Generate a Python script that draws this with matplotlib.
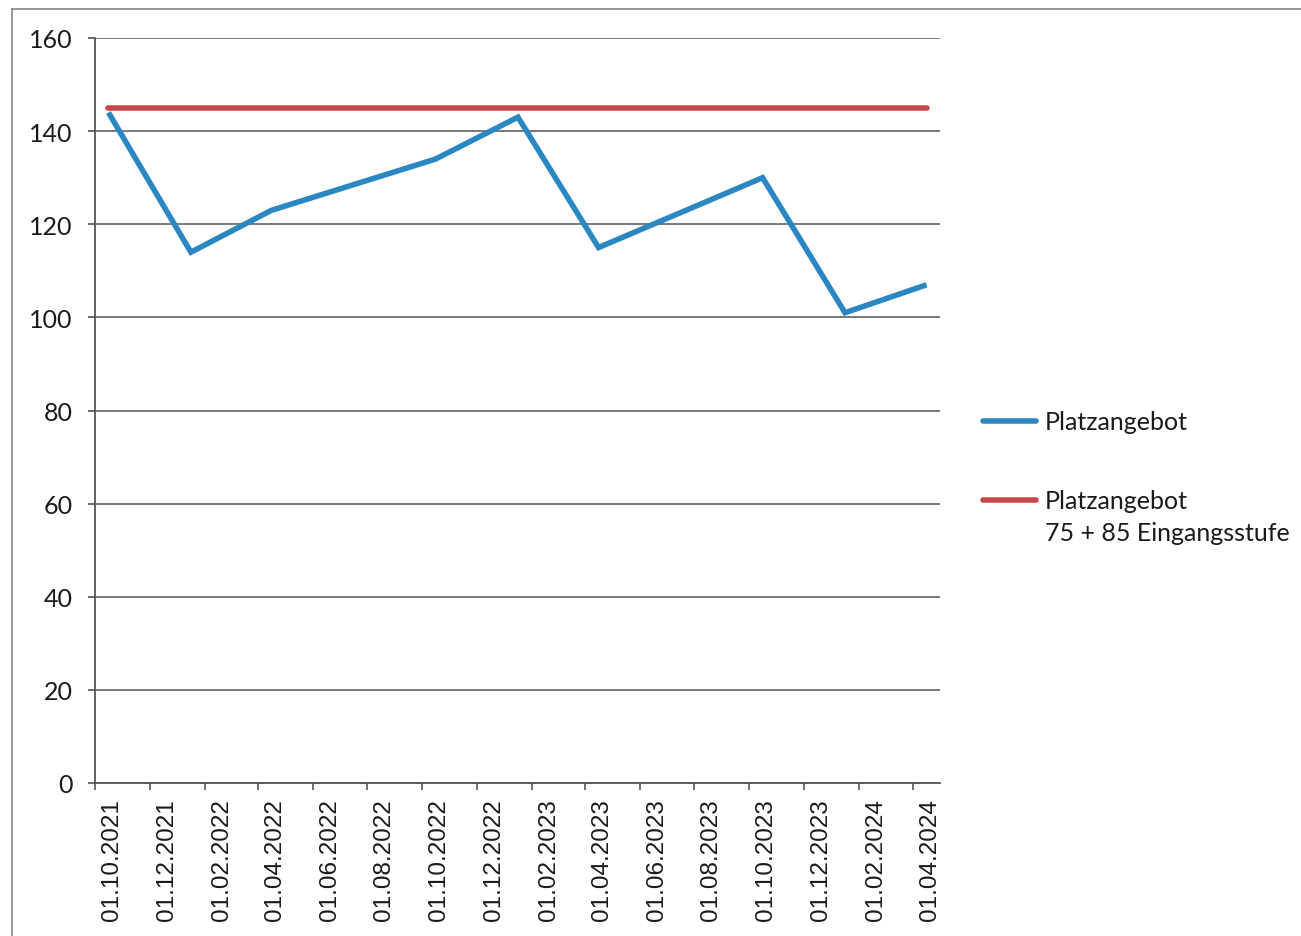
import matplotlib
matplotlib.use("Agg")
import matplotlib.pyplot as plt
import matplotlib.dates as mdates
from matplotlib.lines import Line2D
from matplotlib.transforms import ScaledTranslation
import pandas as pd

# ---- data ----
dates = ["01.10.2021", "01.01.2022", "01.04.2022", "01.10.2022", "01.01.2023",
         "01.04.2023", "01.10.2023", "01.01.2024", "01.04.2024"]
platzangebot = [144, 114, 123, 134, 143, 115, 130, 101, 107]
kapazitaet_dates = ["01.10.2021", "01.04.2024"]
kapazitaet = [145, 145]
series_names = ["Platzangebot", "Platzangebot\n75 + 85 Eingangsstufe"]
y_ticks = [0, 20, 40, 60, 80, 100, 120, 140, 160]

blue = "#2b87c2"
red = "#c9474c"

W, H = 1301, 937
fig = plt.figure(figsize=(W / 100, H / 100), dpi=100)
fig.patch.set_facecolor("white")

ax = fig.add_axes([95 / W, (H - 784) / H, 845 / W, (784 - 39) / H])

# Excel month-based date axis: points sit in the middle of their month
half_month = pd.Timedelta(days=15)
x1 = pd.to_datetime(dates, format="%d.%m.%Y") + half_month
x2 = pd.to_datetime(kapazitaet_dates, format="%d.%m.%Y") + half_month

ax.plot(x2, kapazitaet, color=red, lw=4.0, solid_capstyle="round", zorder=3)
ax.plot(x1, platzangebot, color=blue, lw=4.0, solid_capstyle="butt",
        solid_joinstyle="miter", zorder=4)

ax.set_xlim(pd.Timestamp("2021-10-01"), pd.Timestamp("2024-05-01"))
ax.set_ylim(0, 160)
ax.set_yticks(y_ticks)
ax.yaxis.grid(True, color="#6e6e6e", lw=1.3)
ax.set_axisbelow(True)

ax.xaxis.set_major_locator(mdates.MonthLocator(bymonth=[2, 4, 6, 8, 10, 12], bymonthday=1))
ax.xaxis.set_major_formatter(mdates.DateFormatter("%d.%m.%Y"))

for s in ["top", "right"]:
    ax.spines[s].set_visible(False)
for s in ["left", "bottom"]:
    ax.spines[s].set_color("#555555")
    ax.spines[s].set_linewidth(1.3)

ax.tick_params(axis="y", length=5, width=1.2, color="#555555", pad=11,
               labelsize=18, labelcolor="#1a1a1a")
ax.tick_params(axis="x", length=5, width=1.2, color="#555555", pad=6,
               labelsize=17.5, labelcolor="#1a1a1a", labelrotation=90)
for lab in ax.get_yticklabels():
    lab.set_fontfamily("Lato")
offset = ScaledTranslation(17 / 100, 0, fig.dpi_scale_trans)
for lab in ax.get_xticklabels():
    lab.set_fontfamily("Liberation Sans")
    lab.set_transform(lab.get_transform() + offset)

# ---- legend (drawn in figure pixels) ----
def px(x, y):
    return x / W, 1 - y / H

for color, name, yc in [(blue, series_names[0], 422), (red, series_names[1], 501)]:
    (xa, ya), (xb, _) = px(983, yc), px(1036, yc)
    fig.add_artist(Line2D([xa, xb], [ya, ya], color=color, lw=4.0,
                          solid_capstyle="round", transform=fig.transFigure))
    tx, ty = px(1045, yc - 11)
    fig.text(tx, ty, name, fontsize=18, family="Lato", color="#1a1a1a",
             va="top", ha="left", linespacing=1.45)

# ---- chart frame (scanned border) ----
fig.add_artist(Line2D([12 / W, 12 / W], [0, 1 - 10 / H], color="#888888", lw=1.2,
                      transform=fig.transFigure))
fig.add_artist(Line2D([12 / W, 1], [1 - 10 / H, 1 - 10 / H], color="#888888", lw=1.2,
                      transform=fig.transFigure))

fig.savefig("out.png", dpi=100, facecolor="white")
